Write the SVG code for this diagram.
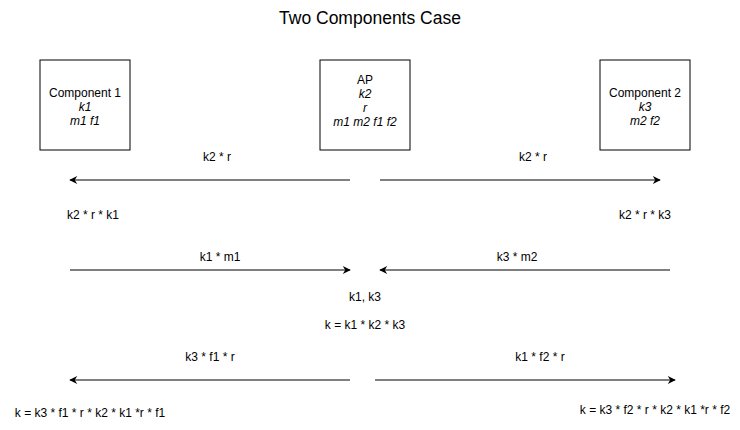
<svg xmlns="http://www.w3.org/2000/svg" width="740" height="430" viewBox="0 0 740 430">
<style>
text{font-family:"Liberation Sans",Arial,sans-serif;font-size:12px;fill:#000;text-anchor:middle}
.t{font-size:17.5px}
.i{font-style:italic}
rect{fill:#fff;stroke:#000;stroke-width:1}
.c line{stroke:#000;stroke-width:1;marker-end:url(#a)}
</style>
<defs>
<marker id="a" viewBox="0 0 10 10" refX="9" refY="5" markerWidth="9" markerHeight="8" markerUnits="userSpaceOnUse" orient="auto">
<path d="M0,0 L10,5 L0,10 L3,5 Z" fill="#000"/>
</marker>
</defs>
<rect x="0" y="0" width="740" height="430" style="stroke:none"/>
<text class="t" x="370" y="24">Two Components Case</text>
<g id="component1">
<rect x="40" y="60" width="90" height="90"/>
<text x="85" y="97">Component 1</text>
<text class="i" x="85" y="111">k1</text>
<text class="i" x="85" y="125">m1 f1</text>
</g>
<g id="ap">
<rect x="320" y="60" width="90" height="90"/>
<text x="365" y="84">AP</text>
<text class="i" x="365" y="98">k2</text>
<text class="i" x="365" y="112">r</text>
<text class="i" x="365" y="126">m1 m2 f1 f2</text>
</g>
<g id="component2">
<rect x="600" y="60" width="90" height="90"/>
<text x="645" y="97">Component 2</text>
<text class="i" x="645" y="111">k3</text>
<text class="i" x="645" y="125">m2 f2</text>
</g>
<g class="c" id="connectors">
<line x1="350" y1="180" x2="70" y2="180"/>
<line x1="380" y1="180" x2="660" y2="180"/>
<line x1="70" y1="270" x2="350" y2="270"/>
<line x1="670" y1="270" x2="380" y2="270"/>
<line x1="350" y1="380" x2="70" y2="380"/>
<line x1="375" y1="380" x2="675" y2="380"/>
</g>
<g id="labels">
<text x="217" y="161">k2 * r</text>
<text x="533" y="161">k2 * r</text>
<text x="93" y="219">k2 * r * k1</text>
<text x="645" y="219">k2 * r * k3</text>
<text x="220" y="261">k1 * m1</text>
<text x="517" y="261">k3 * m2</text>
<text x="365" y="301">k1, k3</text>
<text x="365" y="329">k = k1 * k2 * k3</text>
<text x="210" y="361">k3 * f1 * r</text>
<text x="540" y="361">k1 * f2 * r</text>
<text x="90" y="417">k = k3 * f1 * r * k2 * k1 *r * f1</text>
<text x="655" y="414">k = k3 * f2 * r * k2 * k1 *r * f2</text>
</g>
</svg>
